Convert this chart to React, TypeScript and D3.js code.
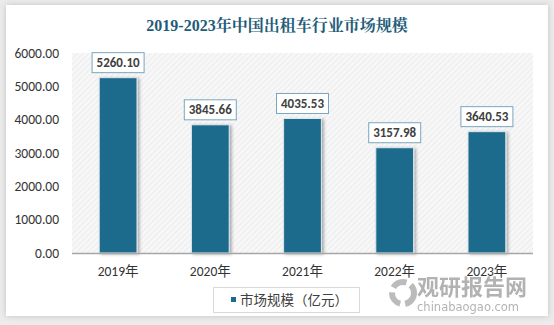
import React from "react";
import * as d3 from "d3";

const categories = ["2019年", "2020年", "2021年", "2022年", "2023年"];
const values = [5260.1, 3845.66, 4035.53, 3157.98, 3640.53];
const yTicks = [0, 1000, 2000, 3000, 4000, 5000, 6000];
const title = "2019-2023年中国出租车行业市场规模";
const seriesName = "市场规模（亿元）";

export default function App() {
  const W = 554, H = 325;
  const plotL = 72, plotR = 533, plotT = 53, plotB = 253;
  const x = d3.scaleBand<string>().domain(categories).range([plotL, plotR]).paddingInner(0.59).paddingOuter(0.295);
  const y = d3.scaleLinear().domain([0, 6000]).range([plotB, plotT]);
  const barColor = "#1d6a8c";
  const sans = "Calibri, Carlito, 'Open Sans', 'Noto Sans CJK SC', sans-serif";
  return (
    <div style={{ position: "fixed", left: 0, top: 0, width: W, height: H }}>
      <svg width={W} height={H} style={{ display: "block" }}>
        <defs>
          <pattern id="hatch" width="4" height="4" patternUnits="userSpaceOnUse" patternTransform="rotate(45)">
            <rect width="4" height="4" fill="#f7f7f7" />
            <line x1="0" y1="0" x2="0" y2="4" stroke="#e6e6e6" strokeWidth="1.2" />
          </pattern>
          <filter id="shadow" x="-20%" y="-10%" width="150%" height="130%">
            <feDropShadow dx="2" dy="1" stdDeviation="1.5" floodColor="#000" floodOpacity="0.3" />
          </filter>
          <filter id="cardShadow" x="-5%" y="-5%" width="110%" height="110%">
            <feDropShadow dx="0" dy="0" stdDeviation="3" floodColor="#000" floodOpacity="0.18" />
          </filter>
        </defs>
        <rect x={0} y={0} width={W} height={H} fill="#ececec" />
        <rect x={6} y={5} width={542} height={311} fill="#ffffff" filter="url(#cardShadow)" />
        <text x={277} y={31} textAnchor="middle" fontFamily="'Times New Roman', 'Liberation Serif', 'Noto Serif CJK SC', 'Noto Sans CJK SC', serif" fontWeight="bold" fontSize={16} fill="#1f5c7a">{title}</text>
        <rect x={plotL} y={plotT} width={plotR - plotL} height={plotB - plotT} fill="url(#hatch)" />
        {yTicks.map((t) => (
          <text key={t} x={59} y={y(t)} dy="0.35em" textAnchor="end" fontFamily={sans} fontSize={13.5} fill="#333">{t.toFixed(2)}</text>
        ))}
        {categories.map((c, i) => {
          const bx = x(c)!;
          const bw = x.bandwidth();
          const by = y(values[i]);
          const cx = bx + bw / 2;
          const lw = 52, lh = 20;
          return (
            <g key={c}>
              <rect x={bx} y={by} width={bw} height={plotB - by} fill={barColor} stroke="#dfe8ee" strokeWidth={1} filter="url(#shadow)" />
              <rect x={cx - lw / 2} y={by - 5 - lh} width={lw} height={lh} fill="#ffffff" stroke="#7aa6bf" strokeWidth={1} />
              <text x={cx} y={by - 5 - lh / 2} dy="0.36em" textAnchor="middle" fontFamily={sans} fontWeight="bold" fontSize={13} fill="#404040">{values[i].toFixed(2)}</text>
              <text x={cx} y={271} dy="0.35em" textAnchor="middle" fontFamily={sans} fontSize={13.5} fill="#333">{c}</text>
            </g>
          );
        })}
        <line x1={plotL} x2={plotR} y1={plotB + 0.5} y2={plotB + 0.5} stroke="#a6a6a6" strokeWidth={1.5} />
        <rect x={213.5} y={287.5} width={146} height={25} fill="#fff" stroke="#d9d9d9" />
        <rect x={231} y={297} width={5} height={5} fill={barColor} />
        <text x={240} y={300} dy="0.35em" fontFamily="'Noto Sans CJK SC', sans-serif" fontSize={13.5} fill="#404040">{seriesName}</text>
        <g opacity={0.6}>
          <circle cx={403} cy={293} r={11} fill="none" stroke="#8f8f8f" strokeWidth={6} strokeDasharray="15 5" />
          <text x={472} y={295} textAnchor="middle" fontFamily="'Noto Sans CJK SC', sans-serif" fontWeight="bold" fontSize={22} fill="#7f7f7f">观研报告网</text>
          <text x={468} y={311} textAnchor="middle" fontFamily="'DejaVu Sans', sans-serif" fontSize={11.5} fill="#7f7f7f">chinabaogao.com</text>
        </g>
      </svg>
    </div>
  );
}
